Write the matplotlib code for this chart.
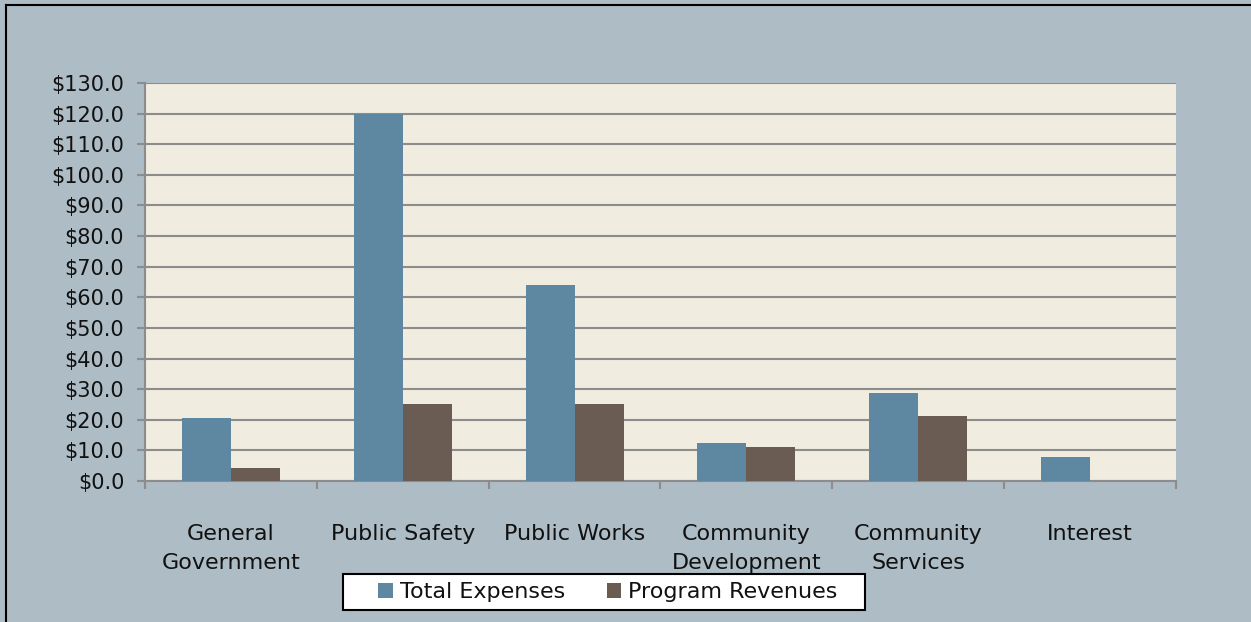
import matplotlib.pyplot as plt
import numpy as np
from matplotlib.lines import Line2D
from matplotlib.patches import Rectangle

# chart data
categories = ["General\nGovernment", "Public Safety", "Public Works",
              "Community\nDevelopment", "Community\nServices", "Interest"]
total_expenses = [20.6, 120.0, 64.0, 12.4, 28.7, 7.7]
program_revenues = [4.2, 25.2, 25.2, 11.2, 21.1, 0.0]
series_names = ["Total Expenses", "Program Revenues"]
y_ticks = list(range(0, 131, 10))

plt.rcParams['font.family'] = ['DejaVu Sans']

blue = '#5E87A2'
brown = '#6A5C53'
grid_grey = '#8C8C8C'
W, H = 1251, 622

fig = plt.figure(figsize=(12.51, 6.22), dpi=100)
fig.patch.set_facecolor('#ADBCC5')

ax = fig.add_axes([145 / W, 1 - 481 / H, (1176 - 145) / W, (481 - 83) / H])
ax.set_facecolor('#F0ECDF')

x = np.arange(len(categories))
w = 0.285
ax.bar(x - w / 2, total_expenses, w, color=blue, label=series_names[0], zorder=3)
ax.bar(x + w / 2, program_revenues, w, color=brown, label=series_names[1], zorder=3)

ax.set_xlim(-0.5, len(categories) - 0.5)
ax.set_ylim(0, 130)
ax.set_yticks(y_ticks)
ax.set_yticklabels(["${:.1f}".format(v) for v in y_ticks])
ax.yaxis.grid(True, color=grid_grey, linewidth=1.5, zorder=1)

# category labels centred, tick marks at the boundaries
ax.set_xticks(x)
ax.set_xticklabels(categories, linespacing=1.55)
ax.set_xticks(np.arange(len(categories) + 1) - 0.5, minor=True)
ax.tick_params(axis='x', which='major', length=0, pad=31, labelsize=16, labelcolor='#111111')
ax.tick_params(axis='x', which='minor', length=6, width=1.5, color=grid_grey)
ax.tick_params(axis='y', length=6, width=1.5, color=grid_grey, pad=9, labelsize=15, labelcolor='#111111')

for side in ['top', 'right']:
    ax.spines[side].set_visible(False)
for side in ['left', 'bottom']:
    ax.spines[side].set_color(grid_grey)
    ax.spines[side].set_linewidth(1.5)

# legend box drawn separately so the side padding can be wide
fig.add_artist(Rectangle((343 / W, 1 - 610 / H), (865 - 343) / W, 36 / H,
                         transform=fig.transFigure, facecolor='white',
                         edgecolor='black', linewidth=1.5))
leg = fig.legend(loc='center', bbox_to_anchor=(608 / W, 1 - 592 / H), ncol=2,
                 fontsize=16, frameon=False, handlelength=0.65, handleheight=0.65,
                 handletextpad=0.3, columnspacing=1.9, borderaxespad=0)
for t in leg.get_texts():
    t.set_color('#111111')

# outer chart border (top and left edges visible)
fig.add_artist(Line2D([6 / W, 1], [1 - 4.5 / H, 1 - 4.5 / H], color='black', linewidth=1.5, transform=fig.transFigure))
fig.add_artist(Line2D([6 / W, 6 / W], [0, 1 - 4.5 / H], color='black', linewidth=1.5, transform=fig.transFigure))

fig.savefig('out.png', dpi=100, facecolor=fig.get_facecolor())
